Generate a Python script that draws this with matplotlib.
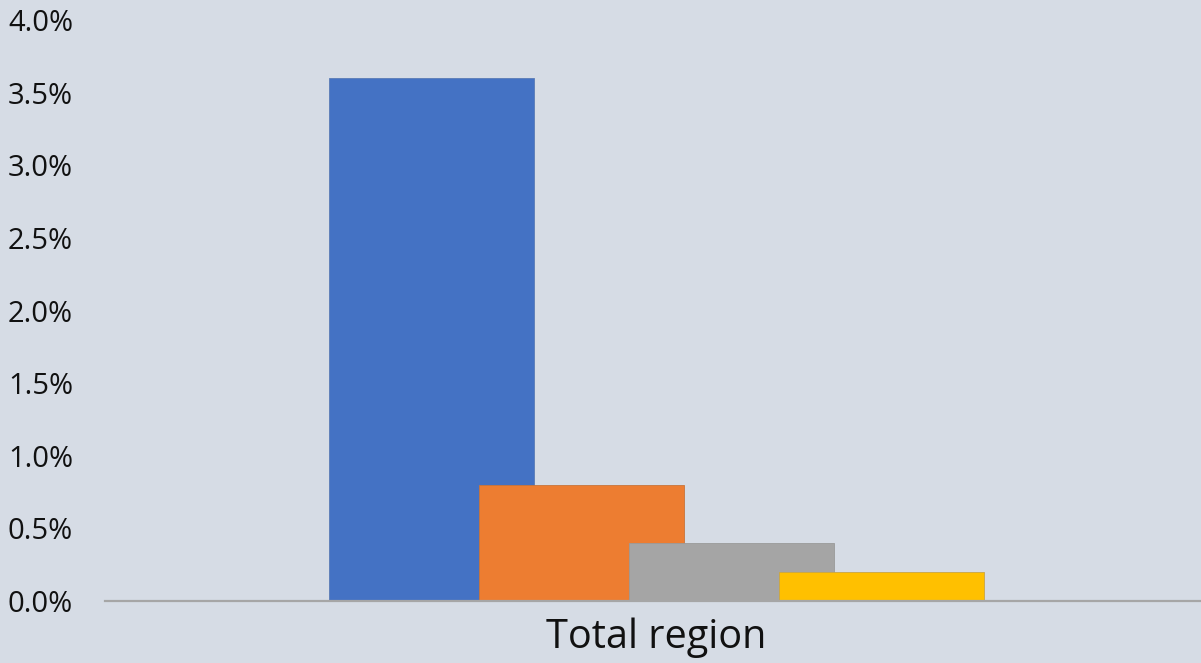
import matplotlib.pyplot as plt
import numpy as np

# data
category = "Total region"
series_values = [0.036, 0.008, 0.004, 0.002]
series_colors = ["#4472C4", "#ED7D31", "#A5A5A5", "#FFC000"]
edge_colors = ["#5A7BB5", "#C8743A", "#9A9A9A", "#C9A545"]
y_ticks = [0.0, 0.005, 0.010, 0.015, 0.020, 0.025, 0.030, 0.035, 0.040]

bg = "#D6DCE5"
fig = plt.figure(figsize=(12.01, 6.63), dpi=100, facecolor=bg)
ax = fig.add_axes([105 / 1201, 62 / 663, 1096 / 1201, 581 / 663])
ax.set_facecolor(bg)

bar_w = 0.187
step = 0.137
offsets = (np.arange(len(series_values)) - 1.5) * step + 0.003
for off, v, c, ec in zip(offsets, series_values, series_colors, edge_colors):
    ax.bar(off, v, width=bar_w, color=c, edgecolor=ec, linewidth=0.6)

ax.set_xlim(-0.5, 0.5)
ax.set_ylim(0, 0.04)
ax.set_yticks(y_ticks)
ax.set_yticklabels([f"{t*100:.1f}%" for t in y_ticks])
ax.set_xticks([0.003])
ax.set_xticklabels([category])

for s in ["top", "right", "left"]:
    ax.spines[s].set_visible(False)
ax.spines["bottom"].set_color("#A6A6A6")
ax.spines["bottom"].set_linewidth(1.6)

ax.tick_params(axis="y", length=0, pad=23, labelsize=21, colors="#111111")
ax.tick_params(axis="x", length=0, pad=12, labelsize=28.5, colors="#111111")
for lab in ax.get_yticklabels() + ax.get_xticklabels():
    lab.set_fontfamily("Open Sans")

fig.savefig("out.png", dpi=100, facecolor=fig.get_facecolor())
